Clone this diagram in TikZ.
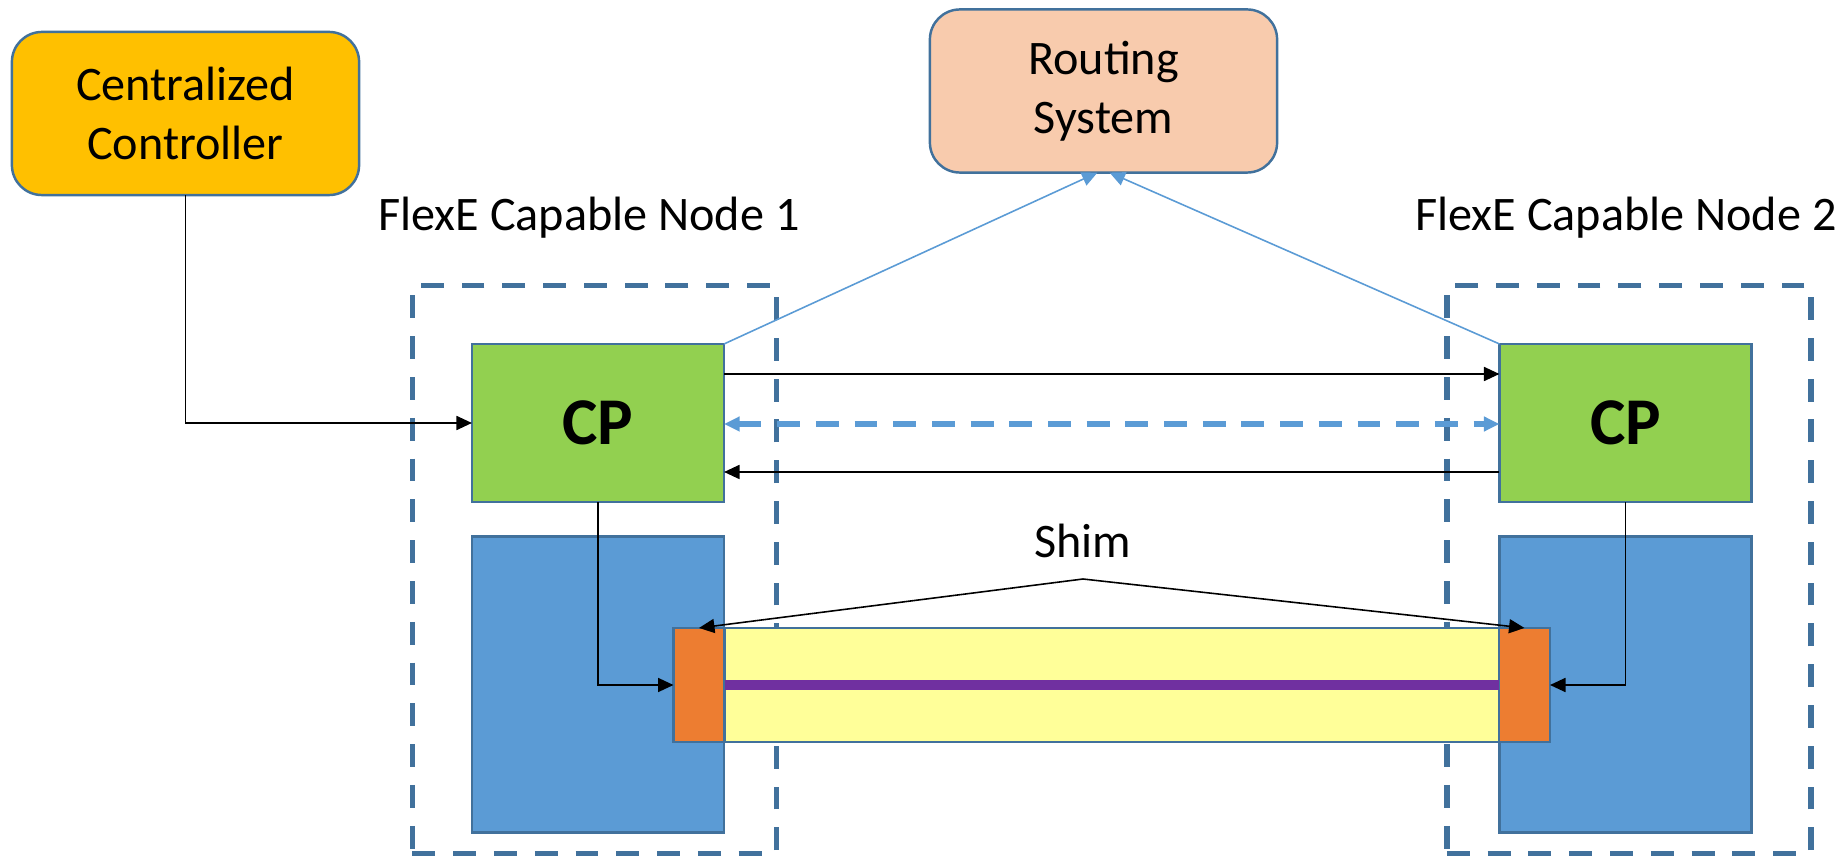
\documentclass[tikz,border=0pt]{standalone}
\usepackage{fontspec}
\setmainfont{Carlito}
\usetikzlibrary{arrows.meta}

\definecolor{edgeblue}{HTML}{41719C}
\definecolor{ctrlgold}{HTML}{FFC000}
\definecolor{routepeach}{HTML}{F8CBAD}
\definecolor{cpgreen}{HTML}{92D050}
\definecolor{shimblue}{HTML}{5B9BD5}
\definecolor{portorange}{HTML}{ED7D31}
\definecolor{linkyellow}{HTML}{FFFF99}
\definecolor{phypurple}{HTML}{7030A0}

\begin{document}
\begin{tikzpicture}[x=0.01cm, y=-0.01cm, font=\fontsize{13.7}{16.8}\selectfont,
  box/.style={draw=edgeblue, line width=0.7pt, inner sep=0pt, outer sep=0pt},
  roundbox/.style={box, rounded corners=0.3cm, align=center, minimum width=3.47cm, minimum height=1.63cm},
  cpbox/.style={box, fill=cpgreen, minimum width=2.52cm, minimum height=1.58cm, font=\fontsize{19}{23}\selectfont\bfseries},
  shimbox/.style={box, fill=shimblue, minimum width=2.52cm, minimum height=2.96cm},
  portbox/.style={box, fill=portorange, minimum width=0.51cm, minimum height=1.14cm},
  frame/.style={draw=edgeblue, line width=1.5pt, dash pattern=on 6.5pt off 5.1pt, inner sep=0pt, minimum width=3.64cm, minimum height=5.67cm},
  arr/.style={-{Triangle[length=4.4pt,width=4pt]}, line width=0.45pt},
  barr/.style={{Triangle[length=4.4pt,width=4pt]}-{Triangle[length=4.4pt,width=4pt]}, draw=shimblue, line width=1.6pt, dash pattern=on 6.5pt off 4.5pt},
  rarr/.style={-{Triangle[length=4.4pt,width=4pt]}, draw=shimblue, fill=shimblue, line width=0.45pt}]
\useasboundingbox (0,0) rectangle (1845,858);

% node frames
\node[frame] (frame1) at (594.5,569.5) {};
\node[frame] (frame2) at (1629,569.5) {};
\node (lab1) at (589,218) {FlexE Capable Node 1};
\node (lab2) at (1626,218) {FlexE Capable Node 2};

% controllers
\node[roundbox, fill=ctrlgold] (cc) at (185.5,113.5) {Centralized\\Controller};
\node[roundbox, fill=routepeach] (rs) at (1103.5,91) {Routing\\System};

% CP and shim
\node[cpbox] (cp1) at (598,423) {CP};
\node[cpbox] (cp2) at (1625.5,423) {CP};
\node[shimbox] (sh1) at (598,684.5) {};
\node[shimbox] (sh2) at (1625.5,684.5) {};

% link
\node[box, fill=linkyellow, minimum width=7.75cm, minimum height=1.14cm] (link) at (1111.5,685) {};
\node[portbox] (or1) at (699,685) {};
\node[portbox] (or2) at (1524.5,685) {};
\draw[phypurple, line width=3.1pt] (or1.east) -- (or2.west);

\node (shim) at (1083,541) {Shim};
\coordinate (apex) at (1083,579);
\draw[arr] (apex) -- (or1.north);
\draw[arr] (apex) -- (or2.north);

% control plane links
\draw[arr] (cc.south) |- (cp1.west);
\draw[arr] (cp1.east |- 0,374) -- (cp2.west |- 0,374);
\draw[barr] (cp1.east |- 0,424) -- (cp2.west |- 0,424);
\draw[arr] (cp2.west |- 0,472) -- (cp1.east |- 0,472);
\draw[arr] (cp1.south) |- (or1.west);
\draw[arr] (cp2.south) |- (or2.east);
\draw[rarr] (cp1.north east) -- ([xshift=-0.06cm]rs.south);
\draw[rarr] (cp2.north west) -- ([xshift=0.06cm]rs.south);

\end{tikzpicture}
\end{document}
